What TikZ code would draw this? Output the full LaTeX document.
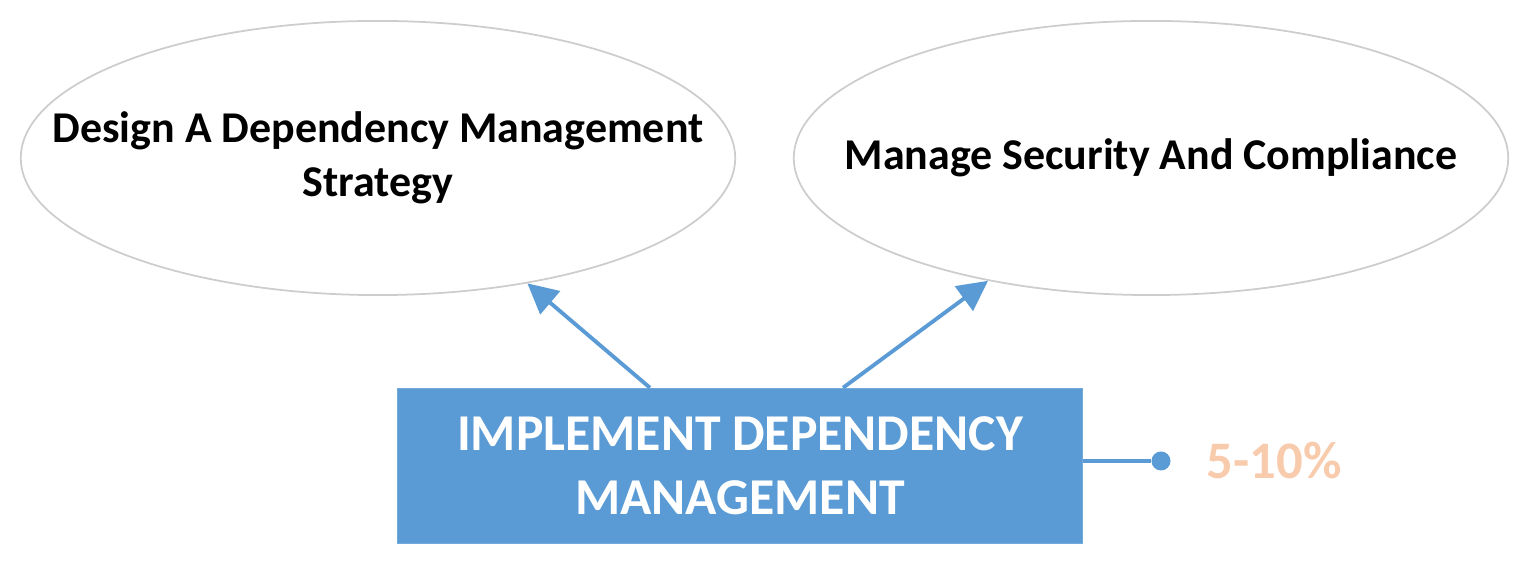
\documentclass[tikz,border=0pt]{standalone}
\usepackage{fontspec}
\setmainfont{Carlito}
\usetikzlibrary{positioning,shapes.geometric,arrows.meta}
\tikzstyle{pixels} = [x = .01cm, y = -.01cm]
\definecolor{boxColor}{RGB}{91,155,213}
\definecolor{ovalColor}{RGB}{205,205,205}
\definecolor{shareColor}{RGB}{248,203,173}
\tikzstyle{topicOval} = [ellipse, draw=ovalColor, line width=.5pt, inner sep=0pt, minimum width=7.14cm, minimum height=2.74cm]
\tikzstyle{topicText} = [align=center, font=\bfseries\fontsize{12.5}{15.4}\selectfont]
\tikzstyle{mainBox} = [rectangle, fill=boxColor, draw=boxColor!85!white, minimum width=6.85cm, minimum height=1.55cm, align=center, text=white, font=\bfseries\fontsize{14.7}{18.2}\selectfont]
\tikzstyle{linkArrow} = [draw=boxColor, line width=1.1pt, -{Triangle[length=.3cm, width=.3cm]}]
\tikzstyle{shareLine} = [draw=boxColor, line width=1.1pt]
\tikzstyle{shareDot} = [circle, fill=boxColor, inner sep=0pt, minimum size=.19cm]
\tikzstyle{shareText} = [text=shareColor, font=\bfseries\fontsize{15}{18}\selectfont]

\begin{document}
\begin{tikzpicture}[pixels]
  \useasboundingbox (0,0) rectangle (1536,583);
  % ovals on top
  \node [topicOval] (design) at (378,158) {};
  \node [topicText] (designText) at (design.center) {Design A Dependency Management\\Strategy};
  \node [topicOval] (security) at (1151,158) {};
  \node [topicText] (securityText) at (security.center) {Manage Security And Compliance};
  % main box
  \node [mainBox] (implement) at (740,466) {IMPLEMENT DEPENDENCY\\MANAGEMENT};
  \draw [linkArrow] ([xshift=-.9cm]implement.north) -- (design.-40);
  \draw [linkArrow] ([xshift=1.03cm]implement.north) -- (security.-143);
  % weight
  \node [shareDot] (dot) at (1161,461) {};
  \draw [shareLine] (dot -| implement.east) -- (dot);
  \node [shareText, right=.23cm of dot] (share) {5-10\%};
\end{tikzpicture}
\end{document}
